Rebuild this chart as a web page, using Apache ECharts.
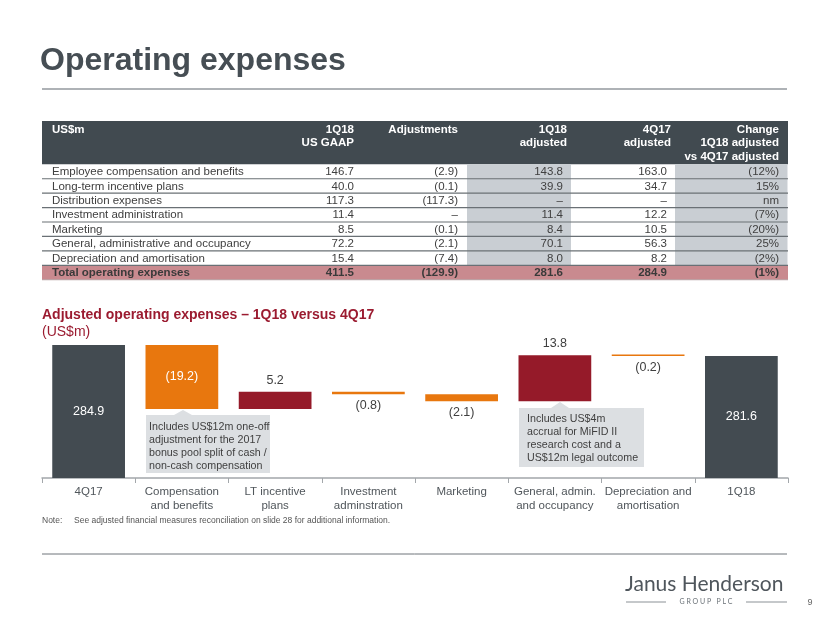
<!DOCTYPE html>
<html><head><meta charset="utf-8">
<script src="https://cdn.jsdelivr.net/npm/echarts@6/dist/echarts.min.js"></script>
<style>html,body{margin:0;padding:0;background:#fff}#c{width:830px;height:623px}</style>
</head><body><div id="c"></div>
<script>
// ---------- DATA ----------
const categories = ['4Q17', 'Compensation\nand benefits', 'LT incentive\nplans', 'Investment\nadminstration',
  'Marketing', 'General, admin.\nand occupancy', 'Depreciation and\namortisation', '1Q18'];
const startValue = 284.9;
const changes = [-19.2, 5.2, -0.8, -2.1, 13.8, -0.2];
const endValue = 281.6;

const tableHeaders = ['US$m', '1Q18\nUS GAAP', 'Adjustments', '1Q18\nadjusted', '4Q17\nadjusted', 'Change\n1Q18 adjusted\nvs 4Q17 adjusted'];
const rowLabels = ['Employee compensation and benefits', 'Long-term incentive plans', 'Distribution expenses',
  'Investment administration', 'Marketing', 'General, administrative and occupancy', 'Depreciation and amortisation'];
const totalLabel = 'Total operating expenses';
const gaap1Q18 = [146.7, 40.0, 117.3, 11.4, 8.5, 72.2, 15.4];
const adjustments = [-2.9, -0.1, -117.3, null, -0.1, -2.1, -7.4];
const adjusted1Q18 = [143.8, 39.9, null, 11.4, 8.4, 70.1, 8.0];
const adjusted4Q17 = [163.0, 34.7, null, 12.2, 10.5, 56.3, 8.2];
const changePct = [-12, 15, null, -7, -20, 25, -2];
const totals = [411.5, -129.9, 281.6, 284.9, -1];

const note = 'See adjusted financial measures reconciliation on slide 28 for additional information.';
const callout1 = 'Includes US$12m one-off\nadjustment for the 2017\nbonus pool split of cash /\nnon-cash compensation';
const callout2 = 'Includes US$4m\naccrual for MiFID II\nresearch cost and a\nUS$12m legal outcome';

// ---------- HELPERS ----------
const FONT = '"Liberation Sans", Arial, Helvetica, sans-serif';
const C_DARK = '#434b51', C_ORANGE = '#e8770e', C_RED = '#951a29', C_TXT = '#404040';
const fmtNum = v => v === null ? '\u2013' : (v < 0 ? '(' + (-v).toFixed(1) + ')' : v.toFixed(1));
const fmtPct = v => v === null ? 'nm' : (v < 0 ? '(' + (-v) + '%)' : v + '%');
const r1 = v => Math.round(v * 10) / 10;

// waterfall series
const baseData = [0], barData = [];
let running = startValue;
barData.push({ value: startValue, itemStyle: { color: C_DARK }, label: { position: 'inside', color: '#fff' }, txt: fmtNum(startValue) });
changes.forEach(ch => {
  const base = ch < 0 ? r1(running + ch) : running;
  baseData.push(base);
  const big = Math.abs(ch) > 10 && ch < 0;
  barData.push({
    value: Math.abs(ch),
    itemStyle: { color: ch < 0 ? C_ORANGE : C_RED },
    label: big ? { position: 'inside', color: '#fff' } : { position: ch < 0 ? 'bottom' : 'top', color: C_TXT },
    txt: fmtNum(ch)
  });
  running = r1(running + ch);
});
baseData.push(0);
barData.push({ value: endValue, itemStyle: { color: C_DARK }, label: { position: 'inside', color: '#fff' }, txt: fmtNum(endValue) });

// ---------- GRAPHICS ----------
const g = [];
function txt(x, y, text, opt) {
  g.push({ type: 'text', x: x, y: y, silent: true, z: 10,
    style: Object.assign({ text: text, fill: C_TXT, fontSize: 11.5, fontFamily: FONT, textAlign: 'left', textVerticalAlign: 'middle' }, opt || {}) });
}
function rect(x, y, w, h, fill, z) { g.push({ type: 'rect', silent: true, z: z || 1, shape: { x: x, y: y, width: w, height: h }, style: { fill: fill } }); }
function line(x1, y1, x2, y2, stroke, lw, z) { g.push({ type: 'line', silent: true, z: z || 5, shape: { x1: x1, y1: y1, x2: x2, y2: y2 }, style: { stroke: stroke, lineWidth: lw } }); }

// title
txt(40, 61, 'Operating expenses', { fontSize: 32, fontWeight: 'bold', fill: '#464e54' });
line(42, 89, 787, 89, '#aeb2b6', 2);

// table
const TX0 = 42, TX1 = 788, HY = 121, HH = 43.3, RH = 14.43;
const valRight = [354, 458, 563, 667, 779];
const hdrRight = [354, 458, 567, 671, 779];
rect(TX0, HY, TX1 - TX0, HH, '#414a50');
txt(52, HY + 1.5, tableHeaders[0], { fill: '#fff', fontWeight: 'bold', textVerticalAlign: 'top', lineHeight: 13.7 });
for (let i = 1; i < tableHeaders.length; i++) {
  txt(hdrRight[i - 1], HY + 1.5, tableHeaders[i], { fill: '#fff', fontWeight: 'bold', textAlign: 'right', textVerticalAlign: 'top', lineHeight: 13.7 });
}
const bodyTop = HY + HH;
// shaded columns
rect(467, bodyTop, 104, RH * rowLabels.length, '#c9ced3');
rect(675, bodyTop, 112.5, RH * rowLabels.length, '#c9ced3');
// total row
rect(TX0, bodyTop + RH * rowLabels.length, TX1 - TX0, RH, '#c98a8f');
const cols = [gaap1Q18, adjustments, adjusted1Q18, adjusted4Q17];
rowLabels.forEach((lab, i) => {
  const cy = bodyTop + RH * i + RH / 2 + 0.5;
  txt(52, cy, lab);
  cols.forEach((c, j) => txt(valRight[j], cy, fmtNum(c[i]), { textAlign: 'right' }));
  txt(valRight[4], cy, fmtPct(changePct[i]), { textAlign: 'right' });
  line(TX0, bodyTop + RH * (i + 1), TX1, bodyTop + RH * (i + 1), '#6a7075', 1.2);
});
{
  const cy = bodyTop + RH * rowLabels.length + RH / 2 + 0.5;
  txt(52, cy, totalLabel, { fontWeight: 'bold', fill: '#3a3a3a' });
  for (let j = 0; j < 4; j++) txt(valRight[j], cy, fmtNum(totals[j]), { textAlign: 'right', fontWeight: 'bold', fill: '#3a3a3a' });
  txt(valRight[4], cy, fmtPct(totals[4]), { textAlign: 'right', fontWeight: 'bold', fill: '#3a3a3a' });
  line(TX0, bodyTop + RH * (rowLabels.length + 1), TX1, bodyTop + RH * (rowLabels.length + 1), '#b7a0a3', 1);
}

// chart subtitle
txt(42, 315, 'Adjusted operating expenses \u2013 1Q18 versus 4Q17', { fontSize: 14, fontWeight: 'bold', fill: '#9b1b30' });
txt(42, 332, '(US$m)', { fontSize: 14, fill: '#9b1b30' });

// callouts
rect(146, 415, 124, 58, '#dcdfe2', 3);
g.push({ type: 'polygon', silent: true, z: 3, shape: { points: [[174, 415], [183, 410], [192, 415]] }, style: { fill: '#dcdfe2' } });
txt(149, 421, callout1, { fontSize: 10.7, lineHeight: 13, textVerticalAlign: 'top', fill: '#3f3f3f' });
rect(519, 408, 125, 59, '#dcdfe2', 3);
g.push({ type: 'polygon', silent: true, z: 3, shape: { points: [[551, 408], [560, 402], [569, 408]] }, style: { fill: '#dcdfe2' } });
txt(527, 413, callout2, { fontSize: 10.7, lineHeight: 12.8, textVerticalAlign: 'top', fill: '#3f3f3f' });

// note & footer
txt(42, 521, 'Note:', { fontSize: 8.5, fill: '#555' });
txt(74, 521, note, { fontSize: 8.5, fill: '#555' });
line(42, 554, 787, 554, '#6f757a', 1);
txt(625, 584, 'Janus Henderson', { fontSize: 21, fontFamily: 'Lato, "Liberation Sans", sans-serif', fill: '#4f565c' });
txt(706, 602, 'G R O U P   P L C', { fontSize: 7, textAlign: 'center', fontFamily: 'Lato, "Liberation Sans", sans-serif', fill: '#6a7177' });
line(626, 602, 666, 602, '#8b9196', 1);
line(746, 602, 787, 602, '#8b9196', 1);
txt(810, 603, '9', { fontSize: 9, textAlign: 'center', fill: '#666' });

// ---------- CHART ----------
const chart = echarts.init(document.getElementById('c'), null, { renderer: 'canvas' });
chart.setOption({
  animation: false,
  backgroundColor: '#fff',
  grid: { left: 42, right: 42, top: 328, bottom: 145, containLabel: false },
  xAxis: {
    type: 'category', data: categories,
    axisLine: { lineStyle: { color: '#a3a7ab', width: 1.5 } },
    axisTick: { show: true, length: 5, lineStyle: { color: '#a3a7ab', width: 1 } },
    axisLabel: { interval: 0, margin: 7, fontSize: 11.5, lineHeight: 14, color: '#50565b', fontFamily: FONT }
  },
  yAxis: { type: 'value', min: 245, max: 290, show: false, splitLine: { show: false } },
  series: [
    { type: 'bar', stack: 'w', data: baseData, barWidth: '78%', silent: true,
      itemStyle: { color: 'rgba(0,0,0,0)' }, emphasis: { disabled: true } },
    { type: 'bar', stack: 'w', data: barData, barWidth: '78%', barMinHeight: 1.5, silent: true,
      label: { show: true, fontSize: 12.5, fontFamily: FONT, distance: 5, formatter: p => p.data.txt },
      emphasis: { disabled: true } }
  ],
  graphic: { elements: g }
});
</script></body></html>
